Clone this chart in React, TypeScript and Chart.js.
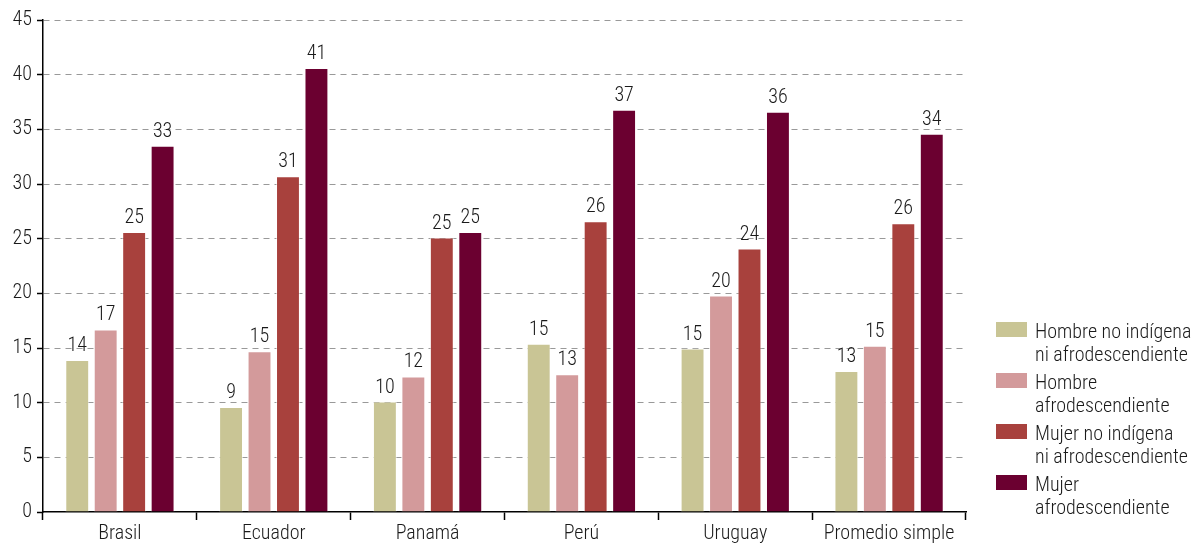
import React, { useEffect, useRef } from "react";
import { Chart, registerables } from "chart.js";

Chart.register(...registerables);

const categories = ["Brasil", "Ecuador", "Panamá", "Perú", "Uruguay", "Promedio simple"];

const seriesNames: string[][] = [
  ["Hombre no indígena", "ni afrodescendiente"],
  ["Hombre", "afrodescendiente"],
  ["Mujer no indígena", "ni afrodescendiente"],
  ["Mujer", "afrodescendiente"],
];

const hombreNoAfro = [13.9, 9.6, 10.1, 15.4, 14.95, 12.9];
const hombreAfro = [16.7, 14.7, 12.4, 12.6, 19.8, 15.2];
const mujerNoAfro = [25.6, 30.7, 25.1, 26.6, 24.1, 26.4];
const mujerAfro = [33.5, 40.6, 25.6, 36.8, 36.6, 34.6];

const hombreNoAfroLabels = ["14", "9", "10", "15", "15", "13"];
const hombreAfroLabels = ["17", "15", "12", "13", "20", "15"];
const mujerNoAfroLabels = ["25", "31", "25", "26", "24", "26"];
const mujerAfroLabels = ["33", "41", "25", "37", "36", "34"];

const colors = ["#C9C595", "#D39A9B", "#A8413D", "#6B0030"];

const yTicks = [0, 5, 10, 15, 20, 25, 30, 35, 40, 45];

const FONT = "'Roboto Condensed', 'Open Sans', sans-serif";
const WEIGHT = 300;

export default function App() {
  const ref = useRef<HTMLCanvasElement | null>(null);

  useEffect(() => {
    const canvas = ref.current;
    if (!canvas) return;
    const allValues = [hombreNoAfro, hombreAfro, mujerNoAfro, mujerAfro];
    const allLabels = [hombreNoAfroLabels, hombreAfroLabels, mujerNoAfroLabels, mujerAfroLabels];

    const labelPlugin = {
      id: "barLabels",
      afterDatasetsDraw(chart: any) {
        const ctx = chart.ctx;
        ctx.save();
        ctx.font = `${WEIGHT} 20px ${FONT}`;
        ctx.fillStyle = "#1a1a1a";
        ctx.textAlign = "center";
        ctx.textBaseline = "alphabetic";
        chart.data.datasets.forEach((ds: any, di: number) => {
          const meta = chart.getDatasetMeta(di);
          meta.data.forEach((bar: any, i: number) => {
            ctx.fillText(allLabels[di][i], bar.x, bar.y - 9);
          });
        });
        ctx.restore();
      },
    };

    const legendPlugin = {
      id: "sideLegend",
      afterDraw(chart: any) {
        const ctx = chart.ctx;
        const area = chart.chartArea;
        ctx.save();
        const x0 = area.right + 30;
        let y0 = 322;
        chart.data.datasets.forEach((ds: any, di: number) => {
          ctx.fillStyle = ds.backgroundColor;
          ctx.fillRect(x0, y0, 31, 15);
          ctx.fillStyle = "#1a1a1a";
          ctx.font = `${WEIGHT} 20px ${FONT}`;
          ctx.textAlign = "left";
          ctx.textBaseline = "alphabetic";
          seriesNames[di].forEach((line, li) => {
            ctx.fillText(line, x0 + 39, y0 + 16 + li * 23);
          });
          y0 += 51;
        });
        ctx.restore();
      },
    };

    const chart = new Chart(canvas, {
      type: "bar",
      data: {
        labels: categories,
        datasets: allValues.map((vals, i) => ({
          label: seriesNames[i].join(" "),
          data: vals,
          backgroundColor: colors[i],
          borderColor: "rgba(255,255,255,0.55)",
          borderWidth: 1,
          barPercentage: 0.84,
          categoryPercentage: 0.74,
        })),
      },
      options: {
        animation: false,
        responsive: false,
        maintainAspectRatio: false,
        layout: { padding: { top: 20, right: 229, left: 0, bottom: 0 } },
        plugins: {
          legend: { display: false },
          tooltip: { enabled: false },
        },
        scales: {
          x: {
            offset: true,
            grid: {
              offset: true,
              drawOnChartArea: false,
              drawTicks: true,
              tickLength: 8,
              tickColor: "#000",
              tickWidth: 1.5,
            },
            border: { display: true, color: "#000", width: 1.5 },
            ticks: {
              color: "#1a1a1a",
              font: { family: FONT, size: 20, weight: WEIGHT },
              padding: 2,
              maxRotation: 0,
              autoSkip: false,
            },
            afterFit(scale: any) {
              scale.height = 32;
            },
          },
          y: {
            min: 0,
            max: 45,
            afterBuildTicks(scale: any) {
              scale.ticks = yTicks.map((v) => ({ value: v }));
            },
            grid: {
              color: (c: any) => (c.tick && c.tick.value === 0 ? "rgba(0,0,0,0)" : "#999999"),
              lineWidth: 1,
              drawTicks: true,
              tickLength: 6,
              tickColor: "#000",
              tickWidth: 1.5,
              tickBorderDash: [],
            },
            border: { display: true, color: "#000", width: 1.5, dash: [6, 5] },
            ticks: {
              color: "#1a1a1a",
              font: { family: FONT, size: 20, weight: WEIGHT },
              padding: 5,
            },
            afterFit(scale: any) {
              scale.width = 43;
            },
          },
        },
      },
      plugins: [labelPlugin, legendPlugin],
    });

    return () => chart.destroy();
  }, []);

  return (
    <div style={{ position: "fixed", left: 0, top: 0, width: 1195, height: 544, background: "#fff" }}>
      <canvas ref={ref} width={1195} height={544} style={{ width: 1195, height: 544 }} />
    </div>
  );
}
